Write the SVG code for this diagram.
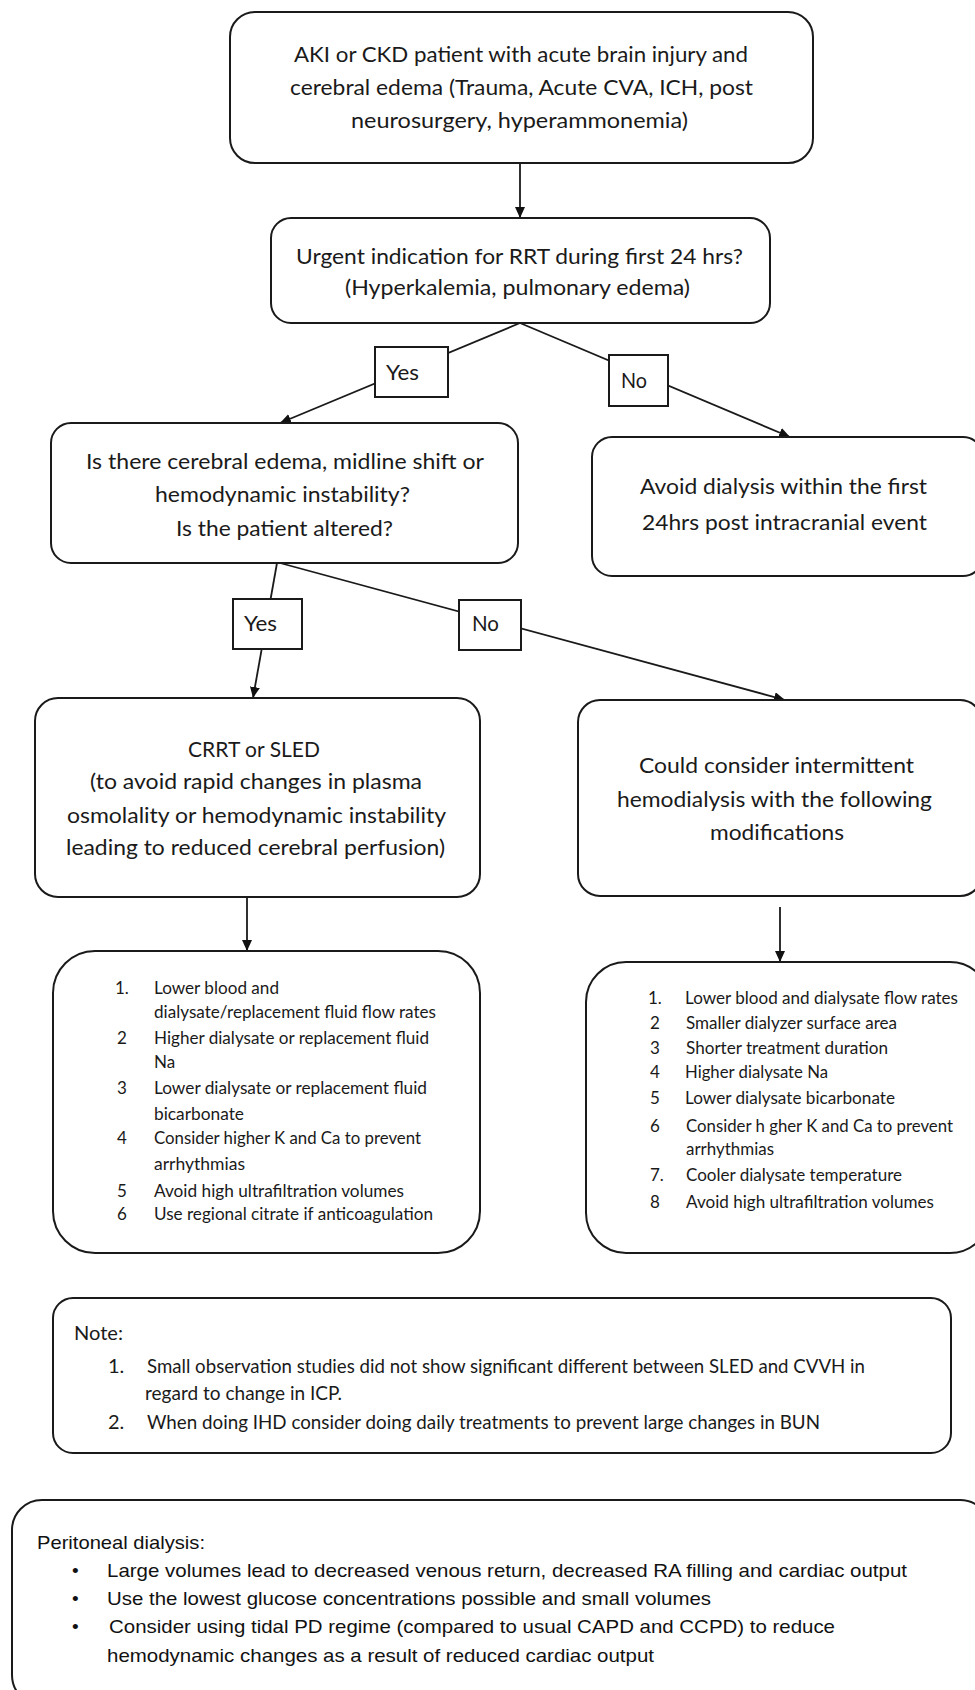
<svg xmlns="http://www.w3.org/2000/svg" width="975" height="1690" viewBox="0 0 975 1690">
<defs>
<marker id="ah" markerUnits="userSpaceOnUse" markerWidth="11" markerHeight="10" refX="11" refY="5" orient="auto">
<path d="M0,0 L11,5 L0,10 z" fill="#111"/>
</marker>
<style>
.box{fill:#fff;stroke:#1a1a1a;stroke-width:2}
.lbl{fill:#fff;stroke:#1a1a1a;stroke-width:2}
.con{stroke:#1a1a1a;stroke-width:1.8;fill:none;marker-end:url(#ah)}
.t{font-family:Lato,"Open Sans",sans-serif;font-size:22px;fill:#1a1a1a}
.s{font-family:Lato,"Open Sans",sans-serif;font-size:17px;fill:#1a1a1a}
.n{font-family:Lato,"Open Sans",sans-serif;font-size:20px;fill:#1a1a1a}
.a{font-family:"Liberation Sans",Arial,sans-serif;font-size:19px;fill:#111}
</style>
</defs>
<rect width="975" height="1690" fill="#fff"/>

<g id="connectors">
<line class="con" x1="520" y1="163" x2="520" y2="218"/>
<line class="con" x1="520" y1="323" x2="280" y2="423"/>
<line class="con" x1="520" y1="323" x2="790" y2="437"/>
<line class="con" x1="277" y1="563" x2="253" y2="698"/>
<line class="con" x1="280" y1="563" x2="785" y2="700"/>
<line class="con" x1="247" y1="897" x2="247" y2="951"/>
<line class="con" x1="780" y1="907" x2="780" y2="962"/>
<g id="lbl-yes1"><rect class="lbl" x="375" y="347" width="73" height="50"/><text class="t" x="386" y="380" textLength="33" lengthAdjust="spacingAndGlyphs">Yes</text></g>
<g id="lbl-no1"><rect class="lbl" x="609" y="355" width="59" height="51"/><text class="t" x="621" y="388" textLength="26" lengthAdjust="spacingAndGlyphs">No</text></g>
<g id="lbl-yes2"><rect class="lbl" x="233" y="599" width="69" height="50"/><text class="t" x="244" y="631" textLength="33" lengthAdjust="spacingAndGlyphs">Yes</text></g>
<g id="lbl-no2"><rect class="lbl" x="459" y="600" width="62" height="50"/><text class="t" x="472" y="631" textLength="27" lengthAdjust="spacingAndGlyphs">No</text></g>
</g>

<g id="n1">
<rect class="box" x="230" y="12" width="583" height="151" rx="25"/>
<text class="t" x="294" y="62" textLength="454" lengthAdjust="spacingAndGlyphs">AKI or CKD patient with acute brain injury and</text>
<text class="t" x="290" y="95" textLength="463" lengthAdjust="spacingAndGlyphs">cerebral edema (Trauma, Acute CVA, ICH, post</text>
<text class="t" x="351" y="128" textLength="337" lengthAdjust="spacingAndGlyphs">neurosurgery, hyperammonemia)</text>
</g>

<g id="n2">
<rect class="box" x="271" y="218" width="499" height="105" rx="20"/>
<text class="t" x="296" y="264" textLength="447" lengthAdjust="spacingAndGlyphs">Urgent indication for RRT during first  24 hrs?</text>
<text class="t" x="345" y="295" textLength="345" lengthAdjust="spacingAndGlyphs">(Hyperkalemia, pulmonary edema)</text>
</g>

<g id="n3">
<rect class="box" x="51" y="423" width="467" height="140" rx="20"/>
<text class="t" x="86" y="469" textLength="398" lengthAdjust="spacingAndGlyphs">Is there cerebral edema, midline shift or</text>
<text class="t" x="155" y="502" textLength="255" lengthAdjust="spacingAndGlyphs">hemodynamic instability?</text>
<text class="t" x="176" y="536" textLength="217" lengthAdjust="spacingAndGlyphs">Is the patient altered?</text>
</g>

<g id="n4">
<rect class="box" x="592" y="437" width="391" height="139" rx="20"/>
<text class="t" x="640" y="494" textLength="287" lengthAdjust="spacingAndGlyphs">Avoid dialysis within the first</text>
<text class="t" x="642" y="530" textLength="285" lengthAdjust="spacingAndGlyphs">24hrs post intracranial event</text>
</g>

<g id="n5">
<rect class="box" x="35" y="698" width="445" height="199" rx="23"/>
<text class="t" x="188" y="757" textLength="132" lengthAdjust="spacingAndGlyphs">CRRT or SLED</text>
<text class="t" x="90" y="789" textLength="332" lengthAdjust="spacingAndGlyphs">(to avoid rapid changes in plasma</text>
<text class="t" x="67" y="823" textLength="379" lengthAdjust="spacingAndGlyphs">osmolality or hemodynamic instability</text>
<text class="t" x="66" y="855" textLength="379" lengthAdjust="spacingAndGlyphs">leading to reduced cerebral perfusion)</text>
</g>

<g id="n6">
<rect class="box" x="578" y="700" width="404" height="196" rx="22"/>
<text class="t" x="639" y="773" textLength="275" lengthAdjust="spacingAndGlyphs">Could consider intermittent</text>
<text class="t" x="617" y="807" textLength="315" lengthAdjust="spacingAndGlyphs">hemodialysis with the following</text>
<text class="t" x="710" y="840" textLength="134" lengthAdjust="spacingAndGlyphs">modifications</text>
</g>

<g id="n7">
<rect class="box" x="53" y="951" width="427" height="302" rx="42"/>
<text class="s" x="115" y="994">1.</text>
<text class="s" x="154" y="994" textLength="125" lengthAdjust="spacingAndGlyphs">Lower blood and</text>
<text class="s" x="154" y="1018" textLength="282" lengthAdjust="spacingAndGlyphs">dialysate/replacement fluid  flow rates</text>
<text class="s" x="117" y="1044">2</text>
<text class="s" x="154" y="1044" textLength="275" lengthAdjust="spacingAndGlyphs">Higher dialysate or replacement fluid</text>
<text class="s" x="154" y="1068">Na</text>
<text class="s" x="117" y="1094">3</text>
<text class="s" x="154" y="1094" textLength="273" lengthAdjust="spacingAndGlyphs">Lower dialysate or replacement fluid</text>
<text class="s" x="154" y="1120" textLength="90" lengthAdjust="spacingAndGlyphs">bicarbonate</text>
<text class="s" x="117" y="1144">4</text>
<text class="s" x="154" y="1144" textLength="267" lengthAdjust="spacingAndGlyphs">Consider higher K and Ca to prevent</text>
<text class="s" x="154" y="1170" textLength="91" lengthAdjust="spacingAndGlyphs">arrhythmias</text>
<text class="s" x="117" y="1197">5</text>
<text class="s" x="154" y="1197" textLength="250" lengthAdjust="spacingAndGlyphs">Avoid high ultrafiltration volumes</text>
<text class="s" x="117" y="1220">6</text>
<text class="s" x="154" y="1220" textLength="279" lengthAdjust="spacingAndGlyphs">Use regional citrate if anticoagulation</text>
</g>

<g id="n8">
<rect class="box" x="586" y="962" width="404" height="291" rx="40"/>
<text class="s" x="648" y="1004">1.</text>
<text class="s" x="685" y="1004" textLength="273" lengthAdjust="spacingAndGlyphs">Lower blood and dialysate flow rates</text>
<text class="s" x="650" y="1029">2</text>
<text class="s" x="686" y="1029" textLength="211" lengthAdjust="spacingAndGlyphs">Smaller dialyzer surface area</text>
<text class="s" x="650" y="1054">3</text>
<text class="s" x="686" y="1054" textLength="202" lengthAdjust="spacingAndGlyphs">Shorter treatment duration</text>
<text class="s" x="650" y="1078">4</text>
<text class="s" x="685" y="1078" textLength="143" lengthAdjust="spacingAndGlyphs">Higher dialysate Na</text>
<text class="s" x="650" y="1104">5</text>
<text class="s" x="685" y="1104" textLength="210" lengthAdjust="spacingAndGlyphs">Lower dialysate bicarbonate</text>
<text class="s" x="650" y="1132">6</text>
<text class="s" x="686" y="1132" textLength="267" lengthAdjust="spacingAndGlyphs">Consider h gher K and Ca to prevent</text>
<text class="s" x="686" y="1155" textLength="88" lengthAdjust="spacingAndGlyphs">arrhythmias</text>
<text class="s" x="650" y="1181">7.</text>
<text class="s" x="686" y="1181" textLength="216" lengthAdjust="spacingAndGlyphs">Cooler dialysate temperature</text>
<text class="s" x="650" y="1208">8</text>
<text class="s" x="686" y="1208" textLength="248" lengthAdjust="spacingAndGlyphs">Avoid high ultrafiltration volumes</text>
</g>

<g id="note">
<rect class="box" x="53" y="1298" width="898" height="155" rx="20"/>
<text class="n" x="74" y="1340" textLength="49" lengthAdjust="spacingAndGlyphs">Note:</text>
<text class="n" x="108" y="1373">1.</text>
<text class="n" x="147" y="1373" textLength="718" lengthAdjust="spacingAndGlyphs">Small observation studies did not show significant different between SLED and CVVH in</text>
<text class="n" x="145" y="1400" textLength="197" lengthAdjust="spacingAndGlyphs">regard to change in ICP.</text>
<text class="n" x="108" y="1429">2.</text>
<text class="n" x="147" y="1429" textLength="673" lengthAdjust="spacingAndGlyphs">When doing IHD consider doing daily treatments to prevent large changes in BUN</text>
</g>

<g id="pd">
<rect class="box" x="12" y="1500" width="978" height="205" rx="30"/>
<text class="a" x="37" y="1549" textLength="168" lengthAdjust="spacingAndGlyphs">Peritoneal dialysis:</text>
<text class="a" x="72" y="1577">•</text>
<text class="a" x="107" y="1577" textLength="800" lengthAdjust="spacingAndGlyphs">Large volumes lead to decreased venous return, decreased RA filling and cardiac output</text>
<text class="a" x="72" y="1605">•</text>
<text class="a" x="107" y="1605" textLength="604" lengthAdjust="spacingAndGlyphs">Use the lowest glucose concentrations possible and small volumes</text>
<text class="a" x="72" y="1633">•</text>
<text class="a" x="109" y="1633" textLength="726" lengthAdjust="spacingAndGlyphs">Consider using tidal PD regime (compared to usual CAPD and CCPD) to reduce</text>
<text class="a" x="107" y="1662" textLength="547" lengthAdjust="spacingAndGlyphs">hemodynamic changes as a result of reduced cardiac output</text>
</g>
</svg>
